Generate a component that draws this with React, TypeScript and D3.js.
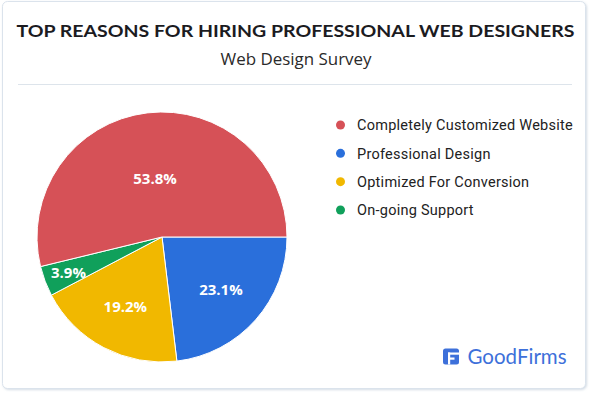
import * as d3 from "d3";
import { useRef, useEffect } from "react";

const categories = [
  "Completely Customized Website",
  "Professional Design",
  "Optimized For Conversion",
  "On-going Support",
];
const values = [53.8, 23.1, 19.2, 3.9];
const colors = ["#d65157", "#2a6fdb", "#f1b800", "#10a05b"];
// slices go clockwise from 3 o'clock in this order
const drawOrder = [1, 2, 3, 0];

const title = "TOP REASONS FOR HIRING PROFESSIONAL WEB DESIGNERS";
const subtitle = "Web Design Survey";

type Slice = { name: string; value: number; color: string };

export default function App() {
  const ref = useRef<SVGSVGElement | null>(null);
  const width = 591;
  const height = 395;

  useEffect(() => {
    const svg = d3.select(ref.current);
    svg.selectAll("*").remove();

    // card
    const defs = svg.append("defs");
    const f = defs.append("filter").attr("id", "sh").attr("x", "-5%").attr("y", "-5%").attr("width", "110%").attr("height", "110%");
    f.append("feDropShadow").attr("dx", 1).attr("dy", 1).attr("stdDeviation", 1.2).attr("flood-color", "#c9d3df").attr("flood-opacity", 0.8);

    svg
      .append("rect")
      .attr("x", 2.5)
      .attr("y", 1.5)
      .attr("width", 583)
      .attr("height", 387)
      .attr("rx", 5)
      .attr("fill", "#fff")
      .attr("stroke", "#dbe3ec")
      .attr("filter", "url(#sh)");

    svg
      .append("text")
      .attr("x", 295.5)
      .attr("y", 37)
      .attr("text-anchor", "middle")
      .attr("font-family", "Lato, sans-serif")
      .attr("font-weight", 700)
      .attr("font-size", 17)
      .attr("fill", "#1b1b1f")
      .attr("textLength", 558)
      .attr("lengthAdjust", "spacingAndGlyphs")
      .text(title);

    svg
      .append("text")
      .attr("x", 296)
      .attr("y", 65)
      .attr("text-anchor", "middle")
      .attr("font-family", "'Open Sans', sans-serif")
      .attr("font-size", 16)
      .attr("fill", "#2a2a2a")
      .attr("textLength", 151)
      .attr("lengthAdjust", "spacingAndGlyphs")
      .text(subtitle);

    svg
      .append("line")
      .attr("x1", 18)
      .attr("x2", 572)
      .attr("y1", 84.5)
      .attr("y2", 84.5)
      .attr("stroke", "#dde4eb");

    // pie
    const cx = 162;
    const cy = 237;
    const r = 125;
    const data: Slice[] = drawOrder.map((i) => ({ name: categories[i], value: values[i], color: colors[i] }));
    const total = d3.sum(values);
    const pie = d3
      .pie<Slice>()
      .value((d) => d.value)
      .sort(null)
      .startAngle(Math.PI / 2)
      .endAngle(Math.PI / 2 + 2 * Math.PI);
    const arcs = pie(data);
    const arc = d3.arc<d3.PieArcDatum<Slice>>().innerRadius(0).outerRadius(r);

    const g = svg.append("g").attr("transform", `translate(${cx},${cy})`);
    g.selectAll("path")
      .data(arcs)
      .join("path")
      .attr("d", arc)
      .attr("fill", (d) => d.data.color)
      .attr("stroke", "#fff")
      .attr("stroke-width", 1);

    const labelR = (p: number) => (p > 0.5 ? 0.47 : p < 0.1 ? 0.8 : 0.63) * r;
    g.selectAll("text")
      .data(arcs)
      .join("text")
      .attr("transform", (d) => {
        const lr = labelR(d.data.value / total);
        const [x, y] = d3.arc().innerRadius(lr).outerRadius(lr).centroid(d as any);
        return `translate(${x},${y})`;
      })
      .attr("text-anchor", "middle")
      .attr("dy", "0.36em")
      .attr("font-family", "'Open Sans', sans-serif")
      .attr("font-weight", 700)
      .attr("font-size", 15)
      .attr("fill", "#fff")
      .text((d) => `${d.data.value}%`);

    // legend
    const ly = d3.scalePoint<string>().domain(categories).range([125, 210]);
    const item = svg
      .append("g")
      .selectAll("g")
      .data(categories)
      .join("g")
      .attr("transform", (d) => `translate(340.5,${ly(d)})`);
    item
      .append("circle")
      .attr("r", 4.5)
      .attr("fill", (d, i) => colors[i]);
    item
      .append("text")
      .attr("x", 16.5)
      .attr("dy", "0.36em")
      .attr("font-family", "Roboto, sans-serif")
      .attr("font-size", 14.5)
      .attr("letter-spacing", 0.25)
      .attr("fill", "#222")
      .text((d) => d);

    // logo
    const logo = svg.append("g").attr("transform", "translate(443,348.5)");
    logo.append("rect").attr("width", 16).attr("height", 16).attr("rx", 2.5).attr("fill", "#3d70da");
    logo.append("rect").attr("x", 5).attr("y", 4).attr("width", 11).attr("height", 2.2).attr("fill", "#fff");
    logo.append("rect").attr("x", 5).attr("y", 4).attr("width", 2.2).attr("height", 12).attr("fill", "#fff");
    logo.append("rect").attr("x", 5).attr("y", 9).attr("width", 6.5).attr("height", 2.2).attr("fill", "#fff");
    svg
      .append("text")
      .attr("x", 467.5)
      .attr("y", 364)
      .attr("font-family", "Lato, sans-serif")
      .attr("font-size", 20.5)
      .attr("fill", "#3d70da")
      .text("GoodFirms");
  }, []);

  return <svg width={width} height={height} ref={ref} style={{ position: "absolute", left: 0, top: 0 }} />;
}
